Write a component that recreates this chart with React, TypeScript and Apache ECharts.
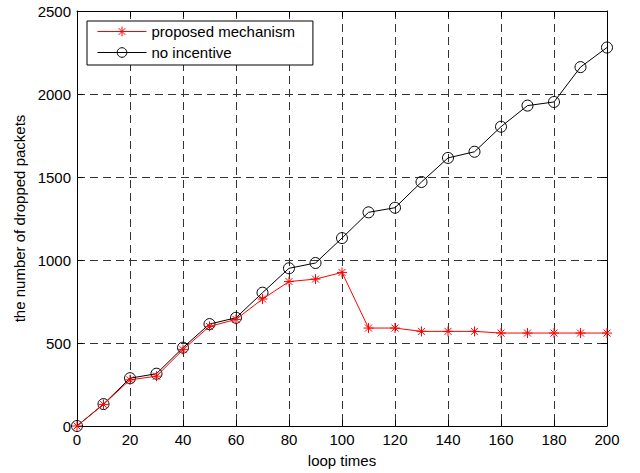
import React, { useEffect, useRef } from "react";
import * as echarts from "echarts";

const loopTimes = [0, 10, 20, 30, 40, 50, 60, 70, 80, 90, 100, 110, 120, 130, 140, 150, 160, 170, 180, 190, 200];
const proposed = [0, 130, 278, 300, 460, 600, 642, 765, 870, 885, 925, 590, 590, 570, 570, 570, 560, 560, 560, 560, 560];
const noIncentive = [0, 132, 288, 315, 472, 614, 652, 803, 950, 982, 1132, 1287, 1315, 1470, 1615, 1652, 1803, 1930, 1952, 2162, 2280];
const xTickInterval = 20;
const yTickInterval = 500;

const FONT = "'Liberation Sans', Arial, Helvetica, sans-serif";
const ASTERISK = "path://M5,0L5,10M0,5L10,5M1.5,1.5L8.5,8.5M1.5,8.5L8.5,1.5";

export default function App() {
  const ref = useRef<HTMLDivElement>(null);
  useEffect(() => {
    if (!ref.current) return;
    const chart = echarts.init(ref.current, undefined, { renderer: "svg" });
    const axisCommon = {
      axisLine: { show: true, onZero: false, lineStyle: { color: "#000", width: 1 } },
      axisTick: { show: true, inside: true, length: 6, lineStyle: { color: "#000" } },
    };
    const plain = (v: number) => String(v);
    chart.setOption({
      animation: false,
      backgroundColor: "#fff",
      textStyle: { fontFamily: FONT },
      grid: { left: 77, right: 33, top: 11, bottom: 45, containLabel: false },
      legend: {
        data: ["proposed mechanism", "no incentive"],
        orient: "vertical",
        left: 87,
        top: 21,
        itemWidth: 49,
        itemHeight: 12,
        itemGap: 6,
        padding: [3, 18, 5, 10],
        borderColor: "#000",
        borderWidth: 1,
        backgroundColor: "#fff",
        lineStyle: { width: 1 },
        itemStyle: { borderWidth: 1 },
        textStyle: { fontSize: 15, color: "#000", fontFamily: FONT },
      },
      xAxis: [
        {
          type: "value",
          min: 0,
          max: 200,
          interval: xTickInterval,
          name: "loop times",
          nameLocation: "middle",
          nameGap: 27,
          nameTextStyle: { fontSize: 15, color: "#000", fontFamily: FONT },
          ...axisCommon,
          axisLabel: { fontSize: 15, color: "#000", margin: 6, fontFamily: FONT, formatter: plain },
          splitLine: { show: true, lineStyle: { color: "#333", type: [8, 5], width: 1 } },
        },
        {
          type: "value",
          position: "top",
          min: 0,
          max: 200,
          interval: xTickInterval,
          ...axisCommon,
          axisLabel: { show: false },
          splitLine: { show: false },
        },
      ],
      yAxis: [
        {
          type: "value",
          min: 0,
          max: 2500,
          interval: yTickInterval,
          name: "the number of dropped packets",
          nameLocation: "middle",
          nameGap: 50,
          nameTextStyle: { fontSize: 15, color: "#000", fontFamily: FONT },
          ...axisCommon,
          axisLabel: { fontSize: 15, color: "#000", margin: 6, fontFamily: FONT, formatter: plain },
          splitLine: { show: true, lineStyle: { color: "#333", type: [8, 5], width: 1 } },
        },
        {
          type: "value",
          position: "right",
          min: 0,
          max: 2500,
          interval: yTickInterval,
          ...axisCommon,
          axisLabel: { show: false },
          splitLine: { show: false },
        },
      ],
      series: [
        {
          name: "no incentive",
          type: "line",
          xAxisIndex: 0,
          yAxisIndex: 0,
          data: loopTimes.map((x, i) => [x, noIncentive[i]]),
          symbol: "circle",
          symbolSize: 11,
          showAllSymbol: true,
          lineStyle: { color: "#000", width: 1 },
          itemStyle: { color: "rgba(0,0,0,0)", borderColor: "#000", borderWidth: 1 },
          z: 2,
        },
        {
          name: "proposed mechanism",
          type: "line",
          xAxisIndex: 0,
          yAxisIndex: 0,
          data: loopTimes.map((x, i) => [x, proposed[i]]),
          symbol: ASTERISK,
          symbolSize: 10,
          showAllSymbol: true,
          lineStyle: { color: "#ff0000", width: 1 },
          itemStyle: { color: "#ff0000", borderColor: "#ff0000", borderWidth: 1 },
          z: 3,
        },
      ],
    });
    return () => chart.dispose();
  }, []);
  return <div ref={ref} style={{ width: 640, height: 473, position: "absolute", left: 0, top: 0 }} />;
}
